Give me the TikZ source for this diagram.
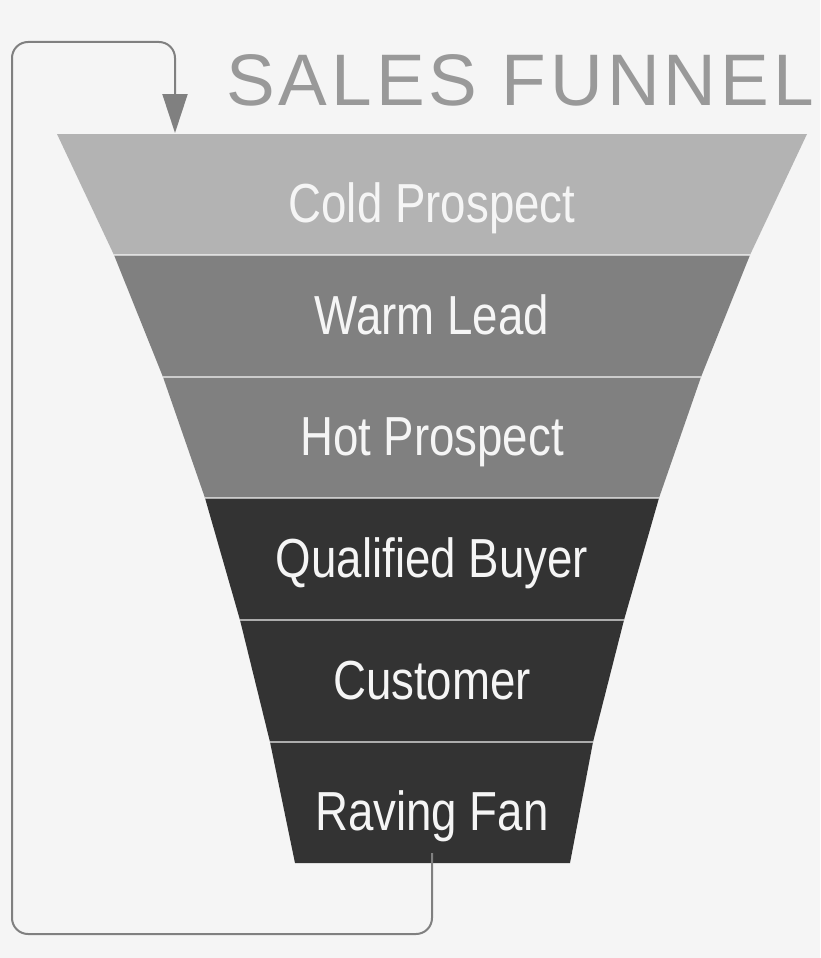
\documentclass[tikz,border=0pt]{standalone}
\usepackage{fontspec}
\usetikzlibrary{arrows.meta}
\newfontfamily\bandfont[FakeStretch=0.83]{Liberation Sans}
\newfontfamily\titlefont[LetterSpace=5.5]{Liberation Sans}
\definecolor{bgcol}{HTML}{F5F5F5}
\definecolor{coldcol}{HTML}{B3B3B3}
\definecolor{warmcol}{HTML}{808080}
\definecolor{darkcol}{HTML}{333333}
\definecolor{loopcol}{HTML}{808080}
\definecolor{titlecol}{HTML}{999999}
\tikzset{
  bandtext/.style={anchor=base, inner sep=0pt, text=bgcol, font=\bandfont\fontsize{55}{60}\selectfont},
  gap/.style={white, opacity=0.6, line width=1.5pt},
  looparrow/.style={loopcol, line width=2pt, rounded corners=16pt, -{Triangle[width=25pt,length=39pt]}},
}
\begin{document}
\begin{tikzpicture}[x=1pt, y=-1pt]
    \fill[bgcol] (0,0) rectangle (820,958);
    \useasboundingbox (0,0) rectangle (820,958);

    \coordinate (l0) at (57,134);  \coordinate (r0) at (807,134);
    \coordinate (l1) at (114,255); \coordinate (r1) at (750,255);
    \coordinate (l2) at (163,377); \coordinate (r2) at (701,377);
    \coordinate (l3) at (205,498); \coordinate (r3) at (659,498);
    \coordinate (l4) at (240,620); \coordinate (r4) at (624,620);
    \coordinate (l5) at (270,742); \coordinate (r5) at (593,742);
    \coordinate (l6) at (295,863); \coordinate (r6) at (570,863);

    % Funnel bands.
    \fill[coldcol] (l0) -- (r0) -- (r1) -- (l1) -- cycle;
    \fill[warmcol] (l1) -- (r1) -- (r2) -- (l2) -- cycle;
    \fill[warmcol] (l2) -- (r2) -- (r3) -- (l3) -- cycle;
    \fill[darkcol] (l3) -- (r3) -- (r4) -- (l4) -- cycle;
    \fill[darkcol] (l4) -- (r4) -- (r5) -- (l5) -- cycle;
    \fill[darkcol] (l5) -- (r5) -- (r6) -- (l6) -- cycle;
    \draw[gap] (l1) -- (r1);
    \draw[gap] (l2) -- (r2);
    \draw[gap] (l3) -- (r3);
    \draw[gap] (l4) -- (r4);
    \draw[gap] (l5) -- (r5);

    \node[bandtext] (cold) at (432,222) {Cold Prospect};
    \node[bandtext] (warm) at (432,334) {Warm Lead};
    \node[bandtext] (hot) at (432,455) {Hot Prospect};
    \node[bandtext] (buyer) at (432,577) {Qualified Buyer};
    \node[bandtext] (customer) at (432,699) {Customer};
    \node[bandtext] (fan) at (432,830) {Raving Fan};

    \node[anchor=base west, inner sep=0pt, text=titlecol, font=\titlefont\fontsize{73}{80}\selectfont] (title) at (226,105) {SALES FUNNEL};

    % Loop back to the top.
    \coordinate (start) at (432,853);
    \coordinate (loopbl) at (12,934);
    \coordinate (looptl) at (12,42);
    \coordinate (tip) at (175,133);
    \draw[looparrow] (start) |- (loopbl) -- (looptl) -| (tip);
\end{tikzpicture}
\end{document}
